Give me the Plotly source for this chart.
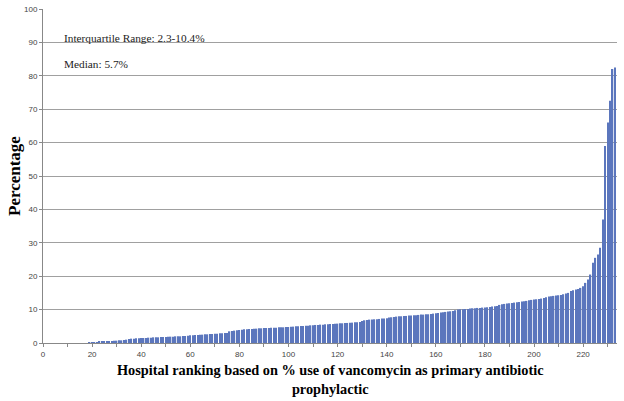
import plotly.graph_objects as go

# Percentage use of vancomycin per hospital, sorted ascending (rank 1..233)
zeros = [0.0] * 18
seg_19_34 = [0.1, 0.2, 0.3, 0.3, 0.4, 0.4, 0.5, 0.5, 0.6, 0.6, 0.7, 0.7, 0.8, 0.8, 0.9, 1.0]
seg_35_59 = [1.2, 1.3, 1.3, 1.4, 1.4, 1.5, 1.5, 1.5, 1.6, 1.6, 1.7, 1.7, 1.7, 1.8, 1.8, 1.8,
             1.9, 1.9, 1.9, 2.0, 2.0, 2.0, 2.1, 2.1, 2.2]
seg_60_75 = [2.3, 2.3, 2.4, 2.4, 2.5, 2.5, 2.6, 2.6, 2.7, 2.7, 2.8, 2.8, 2.9, 2.9, 3.0, 3.0]
seg_76_80 = [3.5, 3.6, 3.7, 3.8, 3.9]
seg_81_100 = [4.0, 4.1, 4.1, 4.2, 4.2, 4.3, 4.3, 4.4, 4.4, 4.5, 4.5, 4.5, 4.6, 4.6, 4.6, 4.7,
              4.7, 4.7, 4.8, 4.8]
seg_101_120 = [4.9, 4.9, 5.0, 5.0, 5.1, 5.1, 5.2, 5.2, 5.3, 5.3, 5.4, 5.4, 5.5, 5.5, 5.6, 5.6,
               5.7, 5.7, 5.8, 5.8]
seg_121_140 = [5.9, 5.9, 6.0, 6.0, 6.1, 6.1, 6.2, 6.2, 6.3, 6.6, 6.8, 6.9, 7.0, 7.0, 7.1, 7.1,
               7.2, 7.3, 7.3, 7.4]
seg_141_160 = [7.6, 7.7, 7.8, 7.9, 8.0, 8.0, 8.1, 8.1, 8.2, 8.2, 8.3, 8.3, 8.4, 8.5, 8.5, 8.6,
               8.6, 8.7, 8.8, 8.9]
seg_161_180 = [9.0, 9.1, 9.2, 9.3, 9.4, 9.5, 9.6, 9.8, 10.0, 10.1, 10.1, 10.2, 10.2, 10.3, 10.4,
               10.4, 10.5, 10.5, 10.6, 10.6]
seg_181_200 = [10.7, 10.8, 10.9, 11.0, 11.1, 11.4, 11.6, 11.7, 11.8, 11.9, 12.0, 12.1, 12.2, 12.3,
               12.4, 12.5, 12.6, 12.8, 12.9, 13.0]
seg_201_220 = [13.1, 13.2, 13.3, 13.5, 13.7, 13.9, 14.0, 14.1, 14.2, 14.3, 14.4, 14.6, 14.8, 15.0,
               15.6, 15.8, 16.0, 16.2, 16.5, 17.0]
seg_221_233 = [18.0, 19.0, 20.5, 24.0, 25.5, 26.5, 28.5, 37.0, 59.0, 66.0, 72.5, 82.0, 82.5]

values = (zeros + seg_19_34 + seg_35_59 + seg_60_75 + seg_76_80 + seg_81_100 + seg_101_120
          + seg_121_140 + seg_141_160 + seg_161_180 + seg_181_200 + seg_201_220 + seg_221_233)
ranks = list(range(1, len(values) + 1))

x_ticks = list(range(0, 221, 20))
y_ticks = list(range(0, 101, 10))

notes = ["Interquartile Range: 2.3-10.4%", "Median: 5.7%"]
x_title = "Hospital ranking based on % use of vancomycin as primary antibiotic<br>prophylactic"
y_title = "Percentage"

W, H = 624, 401
ML, MR, MT, MB = 43, 7, 9, 58
PW, PH = W - ML - MR, H - MT - MB


def px_x(px):
    return (px - ML) / PW


def px_y(py):
    return 1 - (py - MT) / PH


fig = go.Figure()
fig.add_trace(go.Bar(
    x=ranks, y=values,
    marker=dict(color="#5b76bd", line=dict(width=0)),
    hoverinfo="x+y",
))

serif = "Liberation Serif, Times New Roman, serif"
sans = "Liberation Sans, Arial, sans-serif"

fig.update_layout(
    width=W, height=H,
    margin=dict(l=ML, r=MR, t=MT, b=MB),
    paper_bgcolor="white", plot_bgcolor="white",
    bargap=0.45,
    showlegend=False,
    xaxis=dict(
        range=[0, 233.8], automargin=False,
        tickmode="array", tickvals=x_ticks, ticktext=[str(v) for v in x_ticks],
        ticks="outside", ticklen=3, tickcolor="#888",
        minor=dict(tickmode="linear", tick0=0, dtick=10, ticks="outside", ticklen=3, tickcolor="#888"),
        showgrid=False, zeroline=False,
        showline=True, linecolor="#888", linewidth=1,
        tickfont=dict(family=sans, size=8, color="#444"),
    ),
    yaxis=dict(
        range=[0, 100], automargin=False,
        tickmode="array", tickvals=y_ticks,
        ticks="outside", ticklen=3, tickcolor="#888",
        showgrid=True, gridcolor="#a0a0a0", gridwidth=1,
        zeroline=False,
        showline=True, linecolor="#888", linewidth=1,
        tickfont=dict(family=sans, size=8, color="#444"),
    ),
    annotations=[
        dict(x=px_x(62), y=px_y(38), xref="paper", yref="paper", text=notes[0], showarrow=False,
             font=dict(family=serif, size=11.3, color="#222"), xanchor="left", yanchor="middle"),
        dict(x=px_x(62), y=px_y(64), xref="paper", yref="paper", text=notes[1], showarrow=False,
             font=dict(family=serif, size=11.3, color="#222"), xanchor="left", yanchor="middle"),
        dict(x=px_x(330), y=px_y(379), xref="paper", yref="paper", text="<b>" + x_title + "</b>",
             showarrow=False, font=dict(family=serif, size=14.3, color="black"),
             xanchor="center", yanchor="middle", align="center"),
        dict(x=px_x(14), y=px_y(176), xref="paper", yref="paper", text="<b>" + y_title + "</b>",
             showarrow=False, textangle=-90, font=dict(family=serif, size=17, color="black"),
             xanchor="center", yanchor="middle"),
    ],
)

fig.write_html("out.html", config={"displayModeBar": False},
               post_script="document.body.style.margin='0';")
